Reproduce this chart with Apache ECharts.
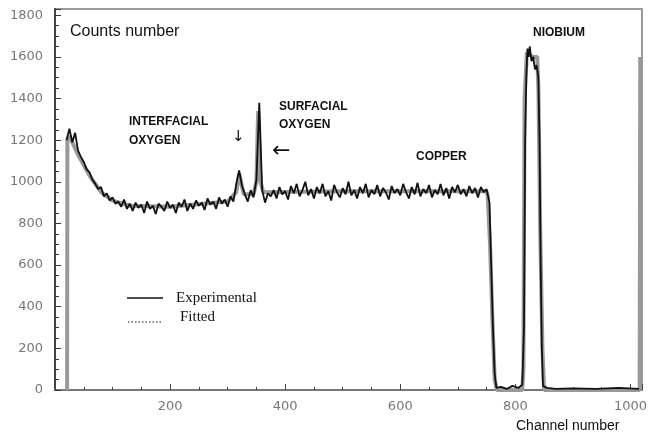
<!DOCTYPE html>
<html>
<head>
<meta charset="utf-8">
<script src="https://cdn.jsdelivr.net/npm/echarts@6/dist/echarts.min.js"></script>
<style>html,body{margin:0;padding:0;background:#fff}#c{width:650px;height:442px}</style>
</head>
<body>
<div id="c"></div>
<script>
// ---- Data ----
const xTickLabels = [200, 400, 600, 800, 1000];
const yTickLabels = [0, 200, 400, 600, 800, 1000, 1200, 1400, 1600, 1800];

// Experimental spectrum: regular part, channel 20..750 every 5 channels
const expStart = 20, expStep = 5;
const expCounts = [
  1200, 1255, 1190, 1235, 1150, 1120, 1095, 1060, 1045, 1010,
  990, 965, 975, 930, 945, 910, 925, 895, 905, 880,
  915, 870, 895, 860, 900, 875, 890, 850, 905, 870,
  885, 845, 895, 880, 860, 905, 875, 890, 850, 900,
  880, 915, 860, 895, 870, 910, 885, 900, 865, 920,
  890, 905, 870, 925, 895, 915, 880, 930, 905, 990,
  1055, 980, 940, 905, 960, 925, 1010, 1380, 960, 900,
  945, 930, 960, 920, 975, 940, 955, 915, 980, 945,
  990, 930, 960, 1000, 935, 965, 920, 975, 945, 990,
  930, 955, 910, 985, 950, 925, 970, 940, 1000, 935,
  960, 920, 975, 945, 990, 925, 960, 940, 985, 930,
  970, 950, 915, 980, 945, 965, 935, 990, 950, 920,
  975, 940, 995, 930, 965, 945, 985, 925, 960, 940,
  990, 935, 970, 920, 975, 950, 985, 940, 965, 930,
  980, 945, 970, 925, 975, 950, 965
];
// Experimental spectrum: copper edge, niobium peak and tail
const expEdgeChannels = [755, 758, 761, 764, 767, 775, 785, 795, 805, 812, 815, 817, 819, 821, 823, 825, 828, 831, 834, 837, 840, 842, 844, 846, 848, 855, 870, 900, 940, 980, 1015];
const expEdgeCounts   = [900, 600, 300, 80, 10, 15, 5, 20, 10, 25, 300, 1200, 1500, 1640, 1600, 1650, 1580, 1600, 1540, 1560, 1500, 1200, 600, 200, 20, 10, 5, 8, 5, 10, 5];

// Fitted spectrum
const fitChannels = [21, 21.5, 25, 40, 60, 80, 100, 130, 200, 300, 315, 320, 328, 345, 350, 353, 357, 362, 500, 750, 752, 756, 760, 764, 768, 812, 814, 816, 820, 830, 838, 840, 843, 847, 850, 1016, 1017];
const fitCounts   = [0, 1200, 1220, 1130, 1030, 950, 910, 885, 880, 905, 950, 1040, 940, 940, 1000, 1340, 1000, 950, 955, 955, 930, 700, 350, 50, 0, 0, 100, 1400, 1620, 1600, 1600, 1450, 800, 200, 0, 0, 1600];

const seriesNames = ['Experimental', 'Fitted'];
const annotations = ['INTERFACIAL', 'OXYGEN', 'SURFACIAL', 'OXYGEN', 'COPPER', 'NIOBIUM'];

// ---- Build ----
const expData = expCounts.map((c, i) => [expStart + i * expStep, c])
  .concat(expEdgeChannels.map((ch, i) => [ch, expEdgeCounts[i]]));
const fitData = fitChannels.map((ch, i) => [ch, fitCounts[i]]);

const chart = echarts.init(document.getElementById('c'), null, {renderer: 'canvas'});
const boldFont = {fontFamily: 'Liberation Sans', fontWeight: 'bold', fontSize: 12, fill: '#111'};
chart.setOption({
  animation: false,
  backgroundColor: '#fff',
  grid: {left: 55, right: 8, top: 9, bottom: 52, show: true, borderColor: '#9a9a9a', borderWidth: 2, backgroundColor: 'transparent'},
  xAxis: {
    type: 'value', min: 0, max: 1020, interval: 200,
    axisLine: {show: true, onZero: false, lineStyle: {color: '#777', width: 2}},
    axisTick: {show: true, inside: true, length: 6, lineStyle: {color: '#444'}},
    minorTick: {show: true, splitNumber: 4, length: 3, lineStyle: {color: '#444'}},
    splitLine: {show: false},
    axisLabel: {color: '#777', fontFamily: 'DejaVu Sans', fontSize: 13, margin: 10,
      formatter: v => xTickLabels.indexOf(v) >= 0 ? String(v) : ''}
  },
  yAxis: {
    type: 'value', min: 0, max: 1830, interval: 200,
    axisLine: {show: true, lineStyle: {color: '#444', width: 2}},
    axisTick: {show: true, inside: true, length: 6, lineStyle: {color: '#333'}},
    minorTick: {show: true, splitNumber: 4, length: 4, lineStyle: {color: '#333'}},
    splitLine: {show: false},
    axisLabel: {color: '#777', fontFamily: 'DejaVu Sans', fontSize: 13, margin: 12,
      formatter: v => yTickLabels.indexOf(v) >= 0 ? String(v) : ''}
  },
  series: [
    {name: seriesNames[1], type: 'line', data: fitData, symbol: 'none', z: 2,
      lineStyle: {color: '#999', width: 4}},
    {name: seriesNames[0], type: 'line', data: expData, symbol: 'none', z: 3,
      lineStyle: {color: '#111', width: 1.8}}
  ],
  graphic: [
    {type: 'text', left: 70, top: 24, style: {text: 'Counts number', font: '16px "Liberation Sans"', fill: '#111'}},
    {type: 'text', left: 516, top: 419, style: {text: 'Channel number', font: '14px "Liberation Sans"', fill: '#111'}},
    {type: 'text', left: 129, top: 116, style: Object.assign({text: annotations[0]}, boldFont)},
    {type: 'text', left: 129, top: 135, style: Object.assign({text: annotations[1]}, boldFont)},
    {type: 'text', left: 279, top: 101, style: Object.assign({text: annotations[2]}, boldFont)},
    {type: 'text', left: 279, top: 119, style: Object.assign({text: annotations[3]}, boldFont)},
    {type: 'text', left: 416, top: 151, style: Object.assign({text: annotations[4]}, boldFont)},
    {type: 'text', left: 533, top: 27, style: Object.assign({text: annotations[5]}, boldFont)},
    {type: 'text', left: 232, top: 130, style: {text: '\u2193', font: '15px "DejaVu Sans"', fill: '#111'}},
    {type: 'text', left: 272, top: 140, style: {text: '\u2190', font: '22px "DejaVu Sans"', fill: '#111'}},
    {type: 'line', shape: {x1: 127, y1: 298, x2: 163, y2: 298}, style: {stroke: '#111', lineWidth: 1.5}},
    {type: 'line', shape: {x1: 128, y1: 322, x2: 162, y2: 322}, style: {stroke: '#111', lineWidth: 1, lineDash: [1.5, 2]}},
    {type: 'text', left: 176, top: 291, style: {text: seriesNames[0], font: '15px "Liberation Serif"', fill: '#111'}},
    {type: 'text', left: 180, top: 310, style: {text: seriesNames[1], font: '15px "Liberation Serif"', fill: '#111'}}
  ]
});
</script>
</body>
</html>
